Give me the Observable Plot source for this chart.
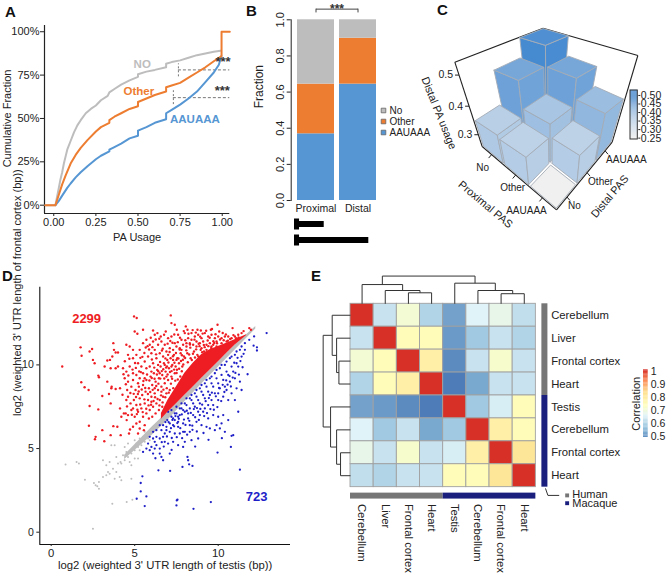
<!DOCTYPE html>
<html><head><meta charset="utf-8">
<script src="https://cdn.jsdelivr.net/npm/d3@7"></script>
<script src="https://cdn.jsdelivr.net/npm/@observablehq/plot@0.6"></script>
<style>
html,body{margin:0;padding:0;background:#fff}
#fig{position:relative;width:666px;height:575px;overflow:hidden;font-family:"Liberation Sans",Arial,sans-serif;color:#222}
#fig svg{position:absolute;max-width:none;overflow:visible}
.tag{position:absolute;font-weight:700;font-size:15px;line-height:15px;color:#111}
</style></head><body><div id="fig"></div>
<script>
const FONT = '"Liberation Sans",Arial,sans-serif';
const BLUE = "#5596d3", ORANGE = "#ed7d31", GREY = "#bdbdbd";

/* ---------- A: cumulative curves ---------- */
const noCurve = [[-.05,0],[.01,0],[.02,.05],[.03,.10],[.04,.15],[.05,.19],[.06,.24],[.07,.28],[.08,.32],[.10,.37],[.12,.42],[.14,.46],[.16,.49],[.19,.53],[.22,.555],[.25,.575],[.28,.605],[.32,.63],[.33,.65],[.36,.67],[.40,.695],[.45,.72],[.50,.74],[.50,.755],[.55,.77],[.60,.78],[.667,.795],[.667,.815],[.70,.825],[.75,.835],[.80,.85],[.85,.865],[.90,.875],[.95,.885],[.99,.89]];
const otherCurve = [[-.05,0],[.01,0],[.03,.06],[.05,.12],[.07,.17],[.10,.24],[.13,.29],[.16,.33],[.20,.375],[.25,.425],[.28,.45],[.33,.475],[.33,.49],[.36,.51],[.40,.53],[.45,.555],[.50,.57],[.50,.595],[.55,.615],[.60,.635],[.667,.655],[.667,.68],[.70,.69],[.75,.705],[.80,.735],[.85,.765],[.90,.795],[.95,.83],[.996,.86],[.996,1],[1.045,1]];
const aauCurve = [[.01,0],[.03,.025],[.05,.055],[.08,.10],[.10,.125],[.13,.16],[.16,.19],[.20,.225],[.25,.265],[.28,.285],[.33,.31],[.33,.32],[.36,.335],[.40,.355],[.45,.385],[.50,.40],[.50,.43],[.55,.45],[.60,.475],[.667,.495],[.667,.53],[.70,.55],[.75,.58],[.80,.615],[.85,.655],[.90,.71],[.95,.765],[.98,.81],[.995,.86]];
const curveTicks = [0,.25,.5,.75,1];

/* ---------- B: stacked fractions ---------- */
const sites = ["Proximal","Distal"];
const signals = ["AAUAAA","Other","No"];
const proximalFractions = [.369,.275,.356];
const distalFractions = [.644,.254,.102];
const geneLengths = [.40,1];
const geneStub = [.068,.068];

/* ---------- C: distal PA usage by proximal (rows) and distal (columns) PAS ---------- */
const pasLevels = ["No","Other","AAUAAA"];
const usageNo = [.35,.47,.54];
const usageOther = [.34,.38,.47];
const usageAau = [.25,.34,.405];
const usageTicks = [.3,.4,.5];

/* ---------- D: points are read by eye; the solid core is an envelope, so the dot count is lower than the printed 2299 ---------- */
const redPoints = [[.66,9.9],[1.76,11.05],[1.82,10.55],[1.8,8.96],[2,8.66],[2.24,8.5],[2.3,10.8],[2.45,10.95],[2.5,10.3],[2.6,10.1],[2.82,9.36],[2.86,9.26],[2.3,7.54],[2.82,7.34],[2.26,6.36],[2.66,5.7],[2.62,5.56],[3.06,6.1],[3.18,5.44],[3.56,5.8],[3.72,11.3],[3.76,10.9],[3.86,10.74],[4,10.74],[4,9.9],[3.86,9.8],[3.56,9.8],[3.36,10.26],[3.52,10.3],[3.66,10.5],[3.2,9.9],[3.06,8.14],[3.46,8.26],[3.62,8.7],[3.6,8.6],[3.86,8.56],[4.12,8.6],[3.36,9],[3.56,7.7],[4.12,7.4],[4.2,6.9],[4.46,7.1],[4.52,6.7],[3.72,6.34],[3.96,6.3],[4.16,5.8],[4.66,5.9],[4.72,6.14],
[4.96,12.9],[5.12,12.8],[7.16,12.96],[7.2,12.5],[7.4,12.4],[5,12],[5.16,11.86],[5.5,12.1],[6.1,12.06],[6.2,11.8],[6.36,11.9],[6.76,11.8],[6.86,12],[6.56,11.7],[7.52,12.1],[8.06,12.3],[8.16,12.1],[8.76,12.1],[8.96,12.06],[9.56,12.1],[9.96,12.4],[10.06,12],[10.86,12.2],[11.86,12.2],[11.96,12.1],
[4.5,11.2],[4.7,11.1],[4.9,10.9],[4.6,10.6],[4.9,10.4],[5.1,10.6],[5.3,10.9],[5.5,11.3],[5.7,11.5],[5.9,11.2],[6.1,11.4],[5.2,10.1],[5.4,9.9],[5.6,10.2],[5.8,10.5],[6,10.7],[6.2,10.9],[6.4,11.2],[6.6,11.4],[6.8,11.2],[7,11.6],[7.2,11.7],[7.4,11.3],[7.6,11.8],[7.8,11.5],[8,11.9],[8.2,11.6],[8.4,11.9],[8.6,11.7],[8.8,11.8],[9,11.6],[9.2,11.9],[9.4,11.7],[9.6,11.8],[9.8,11.6],[10,11.7],[10.2,11.6],[10.4,11.7],[10.6,11.7],[10.8,11.6],[11,11.7],[11.2,11.8],
[4.3,9.8],[4.5,9.6],[4.7,9.9],[4.9,9.5],[4.4,9.2],[4.6,9],[4.9,9.1],[5.1,9.4],[5.3,9.2],[5.5,9.5],[5.7,9.8],[5.9,9.9],[6.1,10.1],[6.3,10.4],[6.5,10.7],[6.7,10.5],[6.9,10.8],[7.1,11],[7.3,10.9],[7.5,11.1],[7.7,11],[7.9,11.2],[8.1,11.1],[8.3,11.3],[8.5,11.2],[8.7,11.4],[8.9,11.3],[9.1,11.4],[9.3,11.2],[9.5,11.3],[9.7,11.2],[9.9,11.4],
[4.55,8.5],[4.8,8.7],[5.05,8.5],[5.25,8.7],[5.5,8.8],[5.7,9.1],[5.95,9.3],[6.15,9.5],[6.35,9.7],[6.55,9.9],[6.75,10.1],[6.95,10.3],[7.15,10.4],[7.35,10.6],[7.55,10.4],[7.75,10.7],[7.95,10.5],[8.15,10.7],[8.35,10.4],[8.55,10.8],[8.75,10.6],[8.95,10.9],[9.15,10.8],
[4.5,7.9],[4.6,8.1],[4.75,7.7],[4.95,7.9],[5.1,7.6],[5.3,8],[5.45,8.2],[5.65,8.4],[5.85,8.6],[6.05,8.8],[6.25,9],[6.45,9.2],[6.65,9.4],[6.85,9.6],[7.05,9.8],[7.25,10],[7.45,9.9],[7.65,10.1],[7.85,9.9],
[4.35,7.1],[4.6,7],[4.8,7.3],[5,6.9],[5.2,7.2],[5.4,7.4],[5.6,7.7],[5.8,7.9],[6,8.1],[6.2,8.3],[6.4,8.5],[6.6,8.7],[6.8,8.9],[7,9.1],[7.2,9.3],[7.4,9.5],
[4.9,6.3],[5.1,6.5],[5.3,6.6],[5.5,6.9],[5.7,7.1],[5.9,7.3],[6.1,7.5],[6.3,7.7],[6.5,7.9],[6.7,8.1],[6.9,8.3],[7.1,8.5],[5.3,6.2],[5.6,6.4],[5.85,6.8],[6.05,6.9],[6.25,7.1],[6.45,7.3],[6.65,7.5],[5.55,6.1],[5.2,5.9],
[6.6,8.4],[6.9,9.3],[7.2,9.9],[7.5,10.3],[7.8,10.9],[8.1,11.3],[8.4,11.5],[8.7,11.1],[9,11],[9.3,10.9],[9.6,11.1],[9.9,11.1],[10.2,11.3],[10.5,11.4],[7,10.6],[6.4,10],[6,9.6],[5.6,9.2],[5.2,8.9],[4.9,7.4],[6,7.8],[6.2,8.6],[6.5,9.5],[6.8,10],[7.3,10.3],
[7.13,11.43],[7.37,11.82],[7.58,11.36],[7.71,11.62],[7.94,12.02],[8.03,11.47],[8.22,11.86],[8.31,11.22],[8.47,12.08],[8.58,11.51],[8.66,11.93],[8.83,11.26],[8.92,11.69],[9.07,11.87],[9.14,11.19],[9.28,12.04],[9.37,11.46],[9.49,11.62],[9.63,12.15],[9.71,11.41],[9.84,11.83],[9.93,11.29],[10.11,11.52],[10.27,11.91],[10.33,11.47],[10.46,11.82],[10.58,11.44],[10.72,11.55],[10.91,11.78],[11.07,11.6],[11.22,11.64],[11.4,11.9],[11.52,12.02],
[6.03,10.32],[6.17,9.84],[6.28,10.63],[6.41,9.62],[6.52,10.18],[6.63,10.86],[6.71,9.74],[6.84,10.39],[6.93,9.91],[7.02,10.14],[7.09,10.77],[7.21,9.63],[7.29,10.52],[7.38,10.13],[7.47,10.71],[7.53,9.71],[7.62,10.38],[7.69,10.92],[7.77,10.23],[7.83,10.58],[7.91,10.02],[8.02,10.41],[8.09,10.87],[8.18,10.16],[8.26,10.62],[8.33,11.03],[8.42,10.29],[8.49,10.67],[8.61,10.44],[8.68,10.93],[8.81,10.51],[8.88,11.12],[9.04,10.76],[9.19,11.06],[9.26,10.71],[9.41,11.12],[9.58,11.01],[9.76,11.31],
[5.08,8.08],[5.16,7.32],[5.24,8.41],[5.33,7.63],[5.37,9.57],[5.42,8.53],[5.48,7.18],[5.52,9.04],[5.58,7.94],[5.63,8.62],[5.69,7.38],[5.74,9.43],[5.79,8.26],[5.83,7.58],[5.88,9.07],[5.93,8.38],[5.98,7.62],[6.02,9.22],[6.08,8.51],[6.13,7.84],[6.19,9.17],[6.22,8.07],[6.29,8.74],[6.33,9.43],[6.37,7.96],[6.42,8.88],[6.48,7.58],[6.53,9.18],[6.58,8.18],[6.62,9.63],[6.67,7.76],[6.72,8.52],[6.77,9.19],[6.83,8.07],[6.88,9.84],[6.92,8.61],[6.97,9.43],[7.04,8.34],[7.11,9.58],[7.17,8.88],[7.24,9.17],[7.31,8.61],[7.36,9.72],[7.43,9.06],[7.51,9.52],[7.58,9.13],[7.66,9.77],[7.73,9.31],[7.82,9.62],[7.89,10.31],
[4.27,8.22],[4.33,9.44],[4.41,10.22],[4.47,8.84],[4.54,7.52],[4.62,9.37],[4.68,10.37],[4.74,8.32],[4.83,7.02],[4.87,9.72],[4.94,8.27],[5.02,10.11],[5.07,9.82],[5.13,7.06],[5.19,8.26],[5.27,9.61],[5.34,10.42],[5.46,10.48],[5.58,10.71],[5.66,11.04],[5.77,11.12],[5.86,10.92],[5.96,11.62],[6.06,11.06],[6.26,11.52],[6.47,11.56],[6.68,10.97],[6.97,11.27],[7.26,11.32]];
const coreX = [6.6,7,7.5,8,8.5,9,9.5,10,10.5,11,11.7];
const coreTop = [7.1,7.9,8.7,9.5,10.1,10.6,10.9,11.1,11.3,11.5,11.8];
const coreBottom = [6.75,7.18,7.68,8.18,8.68,9.18,9.68,10.18,10.68,11.18,11.75];
const bluePoints = [[12.9,11.9],[12.15,11.7],[11.86,11.5],[12.12,11.15],[12.32,10.86],[12.32,11.05],[11.76,9.44],[11.3,3.74],[10.8,5.76],[10.9,5.8],[10.76,5.1],[9.96,4.76],[8.46,3.96],[8.26,4.06],[8.16,4.5],[8.2,4.3],[7.86,3.9],[7.52,1.9],[7.56,1.94],[8.52,1.4],[9.56,1.8],[7.5,1.6],[5.6,1.56],[5.7,2.14],[5.36,2.44],[5.12,2],[5.46,3.34],[5.36,2.94],[7.12,3.66],[6.42,3.7],[6.7,4.3],[6.6,4.5],[6.5,4.7],[7.1,4.7],[6.1,4.7],[5.9,4.9],[6.2,5],[6,5.1],[6.3,5.2],[6.5,5],[6.8,5.4],[7,5.3],[7.3,5.4],[7.6,5.2],[7.9,5.1],[8,5.4],[8.4,5.5],[8.8,5.6],[9.3,6.3],[9.5,6.2],[9.8,6.1],[9.9,6.4],[10.1,6.2],[10.4,6],[10.2,6.5],[10,6.9],[10.3,7],[9.7,7],[9.4,6.8],[9,6.4],[8.7,6.6],[8.3,6],[8,6],[7.7,5.9],[7.4,5.9],[7.1,6],[6.8,5.9],[6.5,5.6],[6.3,5.7],[6.1,5.6],[6.6,6.1],[6.9,6.3],[7.3,6.4],[7.6,6.6],[7.9,6.5],[8.2,6.8],[8.5,7],[8.8,7.2],[9.1,7.2],[9.4,7.6],[9.7,7.6],[10,7.9],[10.3,8.1],[10.6,7.9],[10.8,8.3],[11.1,8.6],[11.3,9],[11,9.2],[10.7,9],[10.4,8.7],[10.1,8.6],[9.8,8.3],[9.5,8.2],[9.2,8],[8.9,7.7],[8.6,7.5],[8.3,7.4],[8,7.2],[7.7,7],[7.4,6.7],[7.1,6.5],[6.9,6.1],[6.7,6.4],[6.95,6.7],[7.2,6.9],[7.5,7.1],[7.8,7.4],[8.1,7.6],[8.4,7.9],[8.7,8.1],[9,8.4],[9.3,8.7],[9.6,8.9],[9.9,9.2],[10.2,9.4],[10.5,9.6],[10.8,9.9],[11.1,10.1],[11.4,10.5],[11.6,10.9],[11.3,10.9],[11,10.6],[10.7,10.4],[10.4,10],[10.1,9.8],[9.8,9.5],[9.5,9.2],[9.2,8.9],[8.9,8.6],[8.6,8.3],[8.3,8],[8,7.7],[7.7,7.4],[7.4,7.1],[7.2,7.3],[7.5,7.5],[7.8,7.7],[8.1,8],[8.4,8.2],[8.7,8.5],[9,8.8],[9.3,9.1],[9.6,9.3],[9.9,9.7],[10.2,10],[10.5,10.2],[10.8,10.5],[11.1,10.8],[11.4,11.1],[11.6,11.3],[7,7.2],[7.3,6.8],[7.6,6.9],[7.9,7.3],[8.2,7.1],[8.5,7.7],[8.8,7.9],[9.1,8.2],[9.4,8.4],[9.7,8.7],[10,8.9],[10.3,9.1],[10.6,9.4],[10.9,9.6],[11.2,9.9],[6.5,6.4],[6.3,6.1],[6.7,5.7],[6.1,6],[5.9,5.7],[6.2,5.4],[5.7,5],[5.5,4.8],[5.8,5.3],[8.9,7],[9.2,7.4],[9.6,7.9],[10,8.3],[10.5,8.5],[11,7.9],[11.2,7.2],[10.6,6.7],[11.4,8.5],[8.3,6.4],[7.9,6],[7.6,6.3],
[7.03,6.58],[7.17,6.22],[7.26,6.71],[7.36,6.33],[7.44,6.94],[7.55,6.52],[7.64,6.78],[7.73,6.22],[7.82,7.04],[7.95,6.73],[8.04,6.41],[8.12,7.26],[8.27,6.66],[8.36,7.13],[8.45,6.37],[8.54,7.36],[8.62,6.87],[8.73,7.42],[8.84,6.71],[8.93,7.37],[9.04,7.62],[9.16,6.94],[9.25,7.83],[9.33,7.12],[9.44,8.02],[9.53,7.36],[9.62,8.34],[9.74,7.32],[9.86,8.12],[9.95,7.48],[10.05,8.62],[10.18,7.84],[10.27,8.81],[10.37,8.38],[10.48,9.07],[10.56,8.82],[10.68,9.33],[10.76,8.71],[10.87,9.24],[10.96,10.13],[11.03,9.52],[11.16,10.42],[11.24,9.42],[11.33,10.23],[11.46,9.86],[11.52,10.66],[6.84,6.58],[6.62,5.38],[6.74,5.12],[6.93,5.72],[7.22,5.63],[7.52,5.68],[7.84,5.62],[8.14,5.83],[8.46,6.12],[8.72,6.02],[9.12,5.93],[9.42,5.52],[10.22,5.62],[8.62,5.12],[7.21,4.92],[6.24,4.42]];
const greyPoints = [[2.5,.2],[.86,4.04],[1.52,4.2],[1.66,4.1],[2.02,3.14],[2.56,2.94],[2.66,2.8],[2.76,2.74],[2.86,2.6],[2.86,3],[3.66,1.7],[4.52,1.8],[4.86,1.94],[3.1,4.3],[3.3,4],[3.4,3.6],[3.5,3.5],[3.3,3.4],[3.1,3.3],[3.7,3.8],[3.9,3.6],[4.1,3.3],[3.8,3.2],[4.2,3.1],[4.8,3.2],[3.6,5.2],[3.8,5.2],[4.4,5.1],[4.6,5.3],[4.2,4.1],[4.4,4.3],[4.6,4.5],[4.8,4.7],[5,4.9],[4.7,4.2],[5,4.4],[5.2,4.4],[5.3,4.9],[5.1,5.3],[5,5.5],[5.3,5.6],[5.5,5.7],[5.7,5.9],[5.9,6],[5.6,6],[5.4,5.2],[5.6,5.4],[4.5,4.8],[4.9,5],[5.2,5.1],[4,4.1],[4.15,4.2],[4.3,4.6],[6.1,6.3],[6.3,6.4],[6.5,6.6],[6.2,6.2],[5.8,5.6],[5.9,5.5],[4.8,4],[3.9,4.5],[3.5,4.2]];
const diagX = [4.4,6,7,8,9,10,11,12.25];
const diagLow = [4.35,5.75,6.7,7.8,8.84,9.86,10.88,12.15];
const diagHigh = [4.6,6.25,7.2,8.18,9.18,10.18,11.18,12.3];

/* ---------- E: correlation matrix ---------- */
const rowTissues = ["Cerebellum","Liver","Frontal cortex","Heart","Testis","Cerebellum","Frontal cortex","Heart"];
const corrRows = [
 [1,.62,.70,.59,.51,.65,.67,.61],
 [.62,1,.74,.74,.50,.57,.62,.59],
 [.70,.74,1,.78,.48,.62,.71,.62],
 [.59,.74,.78,1,.46,.52,.62,.62],
 [.51,.50,.48,.46,1,.57,.64,.74],
 [.65,.57,.62,.52,.57,1,.78,.74],
 [.67,.62,.71,.62,.64,.78,1,.81],
 [.61,.59,.62,.62,.74,.74,.81,1]];
const colTree = [-1.21,[-.84,0,[-.58,1,[-.48,2,3]]],[-.90,4,[-.58,5,[-.44,6,7]]]];
const rowTree = [-1.18,[-.79,0,[-.60,1,[-.50,2,3]]],[-.86,4,[-.60,5,[-.43,6,7]]]];
const corrTicks = [.5,.6,.7,.8,.9,1];

/* ---------- helpers ---------- */
const fig = document.getElementById("fig");
function place(options, left, top) {
  const svg = Plot.plot({marginLeft:0,marginRight:0,marginTop:0,marginBottom:0,...options,
    style:{background:"transparent",fontFamily:FONT,color:"#222",overflow:"visible",...(options.style||{})}});
  svg.style.left = left+"px"; svg.style.top = top+"px";
  fig.appendChild(svg);
  return svg;
}
[["A",5,4],["B",246,3],["C",437,2],["D",2,268],["E",311,268]].forEach(([t,x,y])=>{
  const d=document.createElement("div");d.className="tag";d.textContent=t;d.style.left=x+"px";d.style.top=y+"px";fig.appendChild(d);
});
const rows = (name,pts)=>pts.map(([x,y])=>({name,x,y}));

/* ---------- Panel A ---------- */
place({width:240,height:245,marginLeft:44,marginRight:10.7,marginTop:25,marginBottom:32,style:{fontSize:"11px"},
  x:{domain:[-.055,1.045]},
  y:{domain:[-.048,1.036]},
  marks:[
    Plot.axisX({ticks:curveTicks,tickFormat:d3.format(".2f"),tickSize:3,tickPadding:2,label:"PA Usage",labelAnchor:"center",labelArrow:"none",labelOffset:27}),
    Plot.axisY({ticks:curveTicks,tickFormat:d=>d*100+"%",tickSize:4,tickPadding:1,label:null}),
    Plot.text(["Cumulative Fraction"],{x:[-.275],y:[.5],rotate:-90,fontSize:11,fill:"#222"}),
    Plot.ruleX([-.055],{stroke:"#222",strokeWidth:1.2}),
    Plot.ruleY([-.048],{stroke:"#222",strokeWidth:1.2}),
    Plot.ruleY([.78],{x1:.74,x2:1.045,stroke:"#777",strokeDasharray:"3,2"}),
    Plot.ruleX([.74],{y1:.74,y2:.815,stroke:"#777",strokeDasharray:"2,2"}),
    Plot.ruleY([.62],{x1:.71,x2:1.045,stroke:"#777",strokeDasharray:"3,2"}),
    Plot.ruleX([.71],{y1:.58,y2:.66,stroke:"#777",strokeDasharray:"2,2"}),
    Plot.line(rows("NO",noCurve),{x:"x",y:"y",stroke:GREY,strokeWidth:2}),
    Plot.line(rows("AAUAAA",aauCurve),{x:"x",y:"y",stroke:BLUE,strokeWidth:2}),
    Plot.line(rows("Other",otherCurve),{x:"x",y:"y",stroke:ORANGE,strokeWidth:2}),
    Plot.text(["NO"],{x:[.525],y:[.815],fill:GREY,fontSize:11.5,fontWeight:700}),
    Plot.text(["Other"],{x:[.505],y:[.655],fill:ORANGE,fontSize:11.5,fontWeight:700}),
    Plot.text(["AAUAAA"],{x:[.838],y:[.497],fill:BLUE,fontSize:11.5,fontWeight:700}),
    Plot.text(["***","***"],{x:[1.005,1.0],y:[.825,.66],fill:"#333",fontSize:13,fontWeight:700})
  ]},0,0);

/* ---------- Panel B ---------- */
const stacked = sites.flatMap((site,i)=>signals.map((signal,j)=>({site,signal,value:[proximalFractions,distalFractions][i][j]})));
const signalColor = {domain:["No","Other","AAUAAA"],range:[GREY,ORANGE,BLUE]};
place({width:190,height:216,marginLeft:50.7,insetLeft:1.3,marginRight:48.6,marginTop:19.3,marginBottom:16,style:{fontSize:"11px"},
  x:{type:"band",domain:sites,padding:.11,align:.5},
  y:{domain:[0,1]},
  color:signalColor,
  marks:[
    Plot.barY(stacked,{x:"site",y:"value",fill:"signal",order:signals}),
    Plot.frame({anchor:"left",stroke:"#222"}),
    Plot.axisX({tickSize:0,tickPadding:4,label:null,fontSize:10.5}),
    Plot.axisY({ticks:[0,.2,.4,.6,.8,1],tickFormat:d3.format(".1f"),tickSize:4,tickRotate:-90,tickPadding:3,label:null}),
    Plot.text(["Fraction"],{frameAnchor:"left",dx:-31.7,y:[.51],rotate:-90,fontSize:12,fill:"#222"}),
    Plot.text(["***"],{x:["Distal"],dx:-21,y:[1.06],fontSize:12,fontWeight:700,fill:"#333"}),
    Plot.link([0],{x1:()=>"Proximal",x2:()=>"Distal",y1:()=>1.059,y2:()=>1.059,stroke:"#444"}),
    Plot.ruleX(sites,{x:d=>d,y1:1.059,y2:1.038,stroke:"#444"})
  ]},240,0);
/* transcript models under B */
place({width:190,height:50,
  x:{domain:[0,1],range:[54,128.3],axis:null},
  y:{type:"band",domain:sites,range:[5.5,37.5],padding:0,axis:null},
  marks:[
    Plot.barX(sites,{x1:0,x2:(d,i)=>geneLengths[i],y:d=>d,fill:"#000",insetTop:5,insetBottom:5}),
    Plot.barX(sites,{x1:0,x2:(d,i)=>geneStub[i],y:d=>d,fill:"#000",insetTop:2.5,insetBottom:2.5})
  ]},240,210);
/* legend B */
const legendB = ["No","Other","AAUAAA"];
place({width:60,height:40,style:{fontSize:"11px"},
  y:{type:"point",domain:legendB,range:[5,27.3],padding:0,axis:null},
  color:signalColor,
  marks:[
    Plot.dot(legendB,{frameAnchor:"left",y:d=>d,dx:3,r:2.6,symbol:"square",fill:d=>d,stroke:"#666",strokeWidth:.8}),
    Plot.text(legendB,{frameAnchor:"left",y:d=>d,dx:9,textAnchor:"start",fontSize:10,fill:"#222"})
  ]},380,105);

/* ---------- Panel C ---------- */
const floorQuad = {L:[185/3,438/3],F:[408/3,628/3],R:[575/3,425/3],B:[371/3,290/3]};
const topQuad   = {L:[103/3,185/3],F:[410/3,290/3],R:[652/3,165/3],B:[368/3,83/3]};
const Z0=.25, Z1=.54;
const warpU=u=>Math.pow(u,1.15), warpV=v=>1-Math.pow(1-v,1.15), warpZ=z=>Math.pow(Math.max(0,(z-Z0)/(Z1-Z0)),1.12);
const bil=(q,u,v,k)=>(1-u)*(1-v)*q.L[k]+u*(1-v)*q.F[k]+u*v*q.R[k]+(1-u)*v*q.B[k];
function project(u,v,z){
  const U=warpU(u),V=warpV(v),W=warpZ(z);
  return ["x","y"].reduce((o,key,k)=>{const a=bil(floorQuad,U,V,k),b=bil(topQuad,U,V,k);o[key]=a+(b-a)*W;return o},{});
}
const usage=[usageNo,usageOther,usageAau];
const order=[[0,2],[0,1],[1,2],[0,0],[1,1],[2,2],[1,0],[2,1],[2,0]];
const faces=[];
order.forEach(([p,d])=>{
  const z=usage[p][d], m=.035;
  const u0=(p+m)/3,u1=(p+1-m)/3,v0=(d+m)/3,v1=(d+1-m)/3;
  const poly=(id,val,c)=>c.forEach(([u,v,zz])=>faces.push({id:p+"-"+d+id,val,...project(u,v,zz)}));
  if(z>Z0+.001){
    poly("l",z+.018,[[u0,v0,Z0],[u1,v0,Z0],[u1,v0,z],[u0,v0,z],[u0,v0,Z0]]);
    poly("r",z+.012,[[u1,v0,Z0],[u1,v1,Z0],[u1,v1,z],[u1,v0,z],[u1,v0,Z0]]);
  }
  poly("t",z,[[u0,v0,z],[u1,v0,z],[u1,v1,z],[u0,v1,z],[u0,v0,z]]);
});
const corner=(q,k)=>({x:q[k][0],y:q[k][1]});
const frameEdges=[
  [corner(topQuad,"L"),corner(topQuad,"B")],[corner(topQuad,"B"),corner(topQuad,"R")],
  [corner(topQuad,"L"),corner(floorQuad,"L")],[corner(topQuad,"R"),corner(floorQuad,"R")],
  [corner(floorQuad,"L"),corner(floorQuad,"F")],[corner(floorQuad,"F"),corner(floorQuad,"R")]
].map(([a,b])=>({x1:a.x,y1:a.y,x2:b.x,y2:b.y}));
const usageColor={type:"linear",domain:[.25,.54],range:["#f0f0f0","#5090d2"]};
const zAt=usageTicks.map(t=>({t,...project(0,0,t)}));
const proxNudge=[7,13,0];
const pTicks=pasLevels.map((s,i)=>({s,nudge:proxNudge[i],...project((i+.5)/3,0,Z0)}));
const dTicks=pasLevels.map((s,i)=>({s,...project(1,(i+.5)/3,Z0)}));
place({width:246,height:260,style:{fontSize:"10.5px"},
  x:{domain:[0,246],range:[0,246],axis:null},y:{domain:[0,260],range:[0,260],axis:null},
  color:usageColor,
  marks:[
    Plot.link(frameEdges,{x1:"x1",y1:"y1",x2:"x2",y2:"y2",stroke:"#222",strokeWidth:1.1}),
    Plot.link(zAt,{x1:"x",y1:"y",x2:d=>d.x-4,y2:"y",stroke:"#222"}),
    Plot.text(zAt,{x:"x",y:"y",dx:-6,textAnchor:"end",text:d=>d3.format(".1f")(d.t),fontSize:10.5,fill:"#222"}),
    Plot.line(faces,{x:"x",y:"y",z:"id",fill:"val",stroke:"#a4acb6",strokeWidth:.9}),
    Plot.link(pTicks,{x1:"x",y1:"y",x2:d=>d.x-3,y2:d=>d.y+3.5,stroke:"#222"}),
    Plot.link(dTicks,{x1:"x",y1:"y",x2:d=>d.x+3,y2:d=>d.y+3.5,stroke:"#222"}),
    Plot.text(pTicks,{x:d=>d.x+d.nudge,y:"y",text:"s",dx:-16,dy:13,fontSize:10,fill:"#222"}),
    Plot.text(dTicks,{x:"x",y:"y",text:"s",textAnchor:"start",dx:1,dy:9,fontSize:10,fill:"#222"}),
    Plot.text(["Distal PA usage"],{x:[55/3],y:[338/3],rotate:68,fontSize:11,fill:"#222"}),
    Plot.text(["Proximal PAS"],{x:[195/3],y:[612/3],rotate:40,fontSize:11,fill:"#222"}),
    Plot.text(["Distal PAS"],{x:[568/3],y:[588/3],rotate:-50,fontSize:11,fill:"#222"})
  ]},420,0);
/* colour key C */
const keySteps=d3.range(.242,.529,.006);
place({width:40,height:60,marginRight:32.7,marginBottom:11,style:{fontSize:"10.5px"},
  x:{domain:[0,1],axis:null},y:{domain:[.242,.529]},
  color:usageColor,
  marks:[
    Plot.rect(keySteps,{x1:0,x2:1,y1:d=>d,y2:d=>d+.0062,fill:d=>Math.max(.25,d)}),
    Plot.rect([0],{x1:0,x2:1,y1:.242,y2:.529,fill:"none",stroke:"#333"}),
    Plot.axisY({anchor:"right",ticks:[.25,.3,.35,.4,.45,.5],tickFormat:d3.format(".2f"),tickSize:2,tickPadding:1,label:null})
  ]},630,90);

/* ---------- Panel D ---------- */
const RED="#ee1d23", NAVY="#1f1fc8", DOTGREY="#bdbdbd";
const corePts=coreX.map((x,i)=>({x,y1:coreBottom[i],y2:coreTop[i]}));
const diagPts=diagX.map((x,i)=>({x,y1:diagLow[i],y2:diagHigh[i]}));
place({width:290,height:315,marginLeft:39.3,marginTop:26.7,marginBottom:31,style:{fontSize:"10.5px"},
  x:{domain:[(39.3-50.7)/16.7,(290-50.7)/16.7]},
  y:{domain:[(271.7-284)/16.73,(271.7-26.7)/16.73]},
  marks:[
    Plot.dot(greyPoints,{x:d=>d[0],y:d=>d[1],r:1,fill:DOTGREY}),
    Plot.areaY(diagPts,{x:"x",y1:"y1",y2:"y2",fill:DOTGREY}),
    Plot.dot(bluePoints,{x:d=>d[0],y:d=>d[1],r:1.15,fill:NAVY}),
    Plot.areaY(corePts,{x:"x",y1:"y1",y2:"y2",fill:RED}),
    Plot.dot(redPoints,{x:d=>d[0],y:d=>d[1],r:1.2,fill:RED}),
    Plot.ruleX([(39.3-50.7)/16.7],{stroke:"#111",strokeWidth:1.1}),
    Plot.ruleY([(271.7-284)/16.73],{stroke:"#111",strokeWidth:1.1}),
    Plot.axisX({ticks:[0,5,10],tickSize:2,tickPadding:2,label:"log2 (weighted 3' UTR length of testis (bp))",labelAnchor:"center",labelArrow:"none",labelOffset:24,fontSize:11.3}),
    Plot.axisY({ticks:[0,5,10],tickSize:3,tickPadding:3,label:null}),
    Plot.text(["log2 (weighted 3' UTR length of frontal cortex (bp))"],{frameAnchor:"left",dx:-22,y:[6.95],rotate:-90,fontSize:11,fill:"#222"}),
    Plot.text(["2299"],{x:[2.12],y:[12.74],fill:RED,fontWeight:700,fontSize:13}),
    Plot.text(["723"],{x:[12.3],y:[2.1],fill:NAVY,fontWeight:700,fontSize:13})
  ]},0,260);

/* ---------- Panel E ---------- */
const cells=corrRows.flatMap((r,j)=>r.map((c,i)=>({i,j,c})));
const heatColor={type:"linear",domain:[.45,.55,.65,.73,.83,.92,1],range:["#4575b4","#91bfdb","#e0f3f8","#ffffbf","#fee090","#fc8d59","#d73027"]};
function treeSegs(t,out){
  if(typeof t==="number")return{pos:t+.5,h:0};
  const [h,a,b]=t;const A=treeSegs(a,out),B=treeSegs(b,out);
  out.push({p1:A.pos,h1:h,p2:B.pos,h2:h},{p1:A.pos,h1:A.h,p2:A.pos,h2:h},{p1:B.pos,h1:B.h,p2:B.pos,h2:h});
  return{pos:(A.pos+B.pos)/2,h};
}
const colSegs=[],rowSegs=[];treeSegs(colTree,colSegs);treeSegs(rowTree,rowSegs);
const species=[{name:"Human",a:0,b:4,fill:"#767676"},{name:"Macaque",a:4,b:8,fill:"#1a1f7e"}];
place({width:366,height:315,style:{fontSize:"11px"},
  x:{domain:[-50/23.17,(366-50)/23.17],range:[0,366],axis:null},
  y:{domain:[-43.3/22.92,(315-43.3)/22.92],range:[0,315],axis:null},
  color:heatColor,
  marks:[
    Plot.rect(cells,{x1:"i",x2:d=>d.i+1,y1:"j",y2:d=>d.j+1,fill:"c",stroke:"#a0a0a0",strokeWidth:.9}),
    Plot.link(colSegs,{x1:"p1",x2:"p2",y1:"h1",y2:"h2",stroke:"#333",strokeWidth:1}),
    Plot.link(rowSegs,{y1:"p1",y2:"p2",x1:"h1",x2:"h2",stroke:"#333",strokeWidth:1}),
    Plot.rect(species,{x1:8.26,x2:8.52,y1:"a",y2:"b",fill:d=>d.fill}),
    Plot.rect(species,{y1:8.26,y2:8.52,x1:"a",x2:"b",fill:d=>d.fill}),
    Plot.text(rowTissues,{x:8.66,y:(d,i)=>i+.5,textAnchor:"start",fontSize:11.3,fill:"#222"}),
    Plot.text(rowTissues,{x:(d,i)=>i+.5,y:8.73,rotate:90,textAnchor:"start",fontSize:11.3,fill:"#222"}),
    Plot.line([{x:8.42,y:8.07},{x:8.52,y:8.36},{x:8.99,y:8.36}],{x:"x",y:"y",stroke:"#333",strokeWidth:1}),
    Plot.dot(species,{x:9.35,y:(d,i)=>8.36+i*.34,r:2.2,symbol:"square",fill:d=>d.fill}),
    Plot.text(species,{x:9.57,y:(d,i)=>8.33+i*.36,text:"name",textAnchor:"start",fontSize:11,fill:"#222"}),
    Plot.text(["Correlation"],{x:[12.33],y:[4.36],rotate:-90,fontSize:11,fill:"#222"})
  ]},300,260);
/* colour key E */
place({width:40,height:80,marginRight:35.3,marginBottom:12,style:{fontSize:"10.5px"},
  x:{domain:[0,1],axis:null},y:{domain:[.49,1.013]},
  color:heatColor,
  marks:[
    Plot.rect(d3.range(.49,1.01,.01),{x1:0,x2:1,y1:d=>d,y2:d=>d+.0105,fill:d=>d}),
    Plot.axisY({anchor:"right",ticks:corrTicks,tickFormat:d=>d===1?"1":d3.format(".1f")(d),tickSize:0,tickPadding:2.5,label:null})
  ]},642.7,369);
</script></body></html>
